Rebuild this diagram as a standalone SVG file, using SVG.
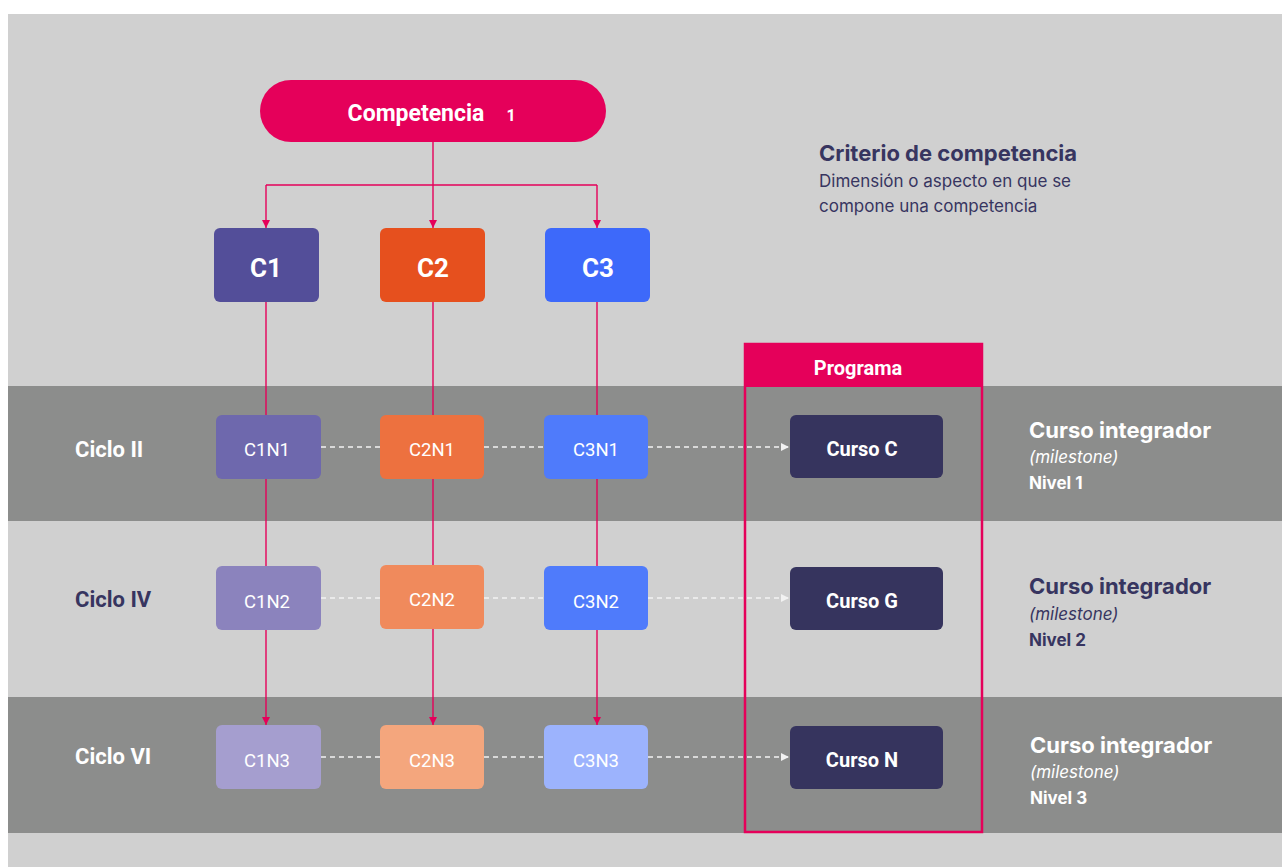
<svg xmlns="http://www.w3.org/2000/svg" width="1282" height="867" viewBox="0 0 1282 867">
<defs>
<style>
.n{font-family:Roboto,"Liberation Sans",sans-serif;fill:#fff;text-anchor:middle}
.b{font-weight:bold}
.ann{font-family:Inter,"Liberation Sans",sans-serif}
.wire{stroke:#e5005a;stroke-width:1.4;fill:none}
.dash{stroke:#f2f2f2;stroke-width:1.5;stroke-dasharray:5 4;fill:none}
</style>
<marker id="ap" viewBox="0 0 10 10" refX="10" refY="5" markerWidth="8" markerHeight="8" markerUnits="userSpaceOnUse" orient="auto"><path d="M0,0 L10,5 L0,10 z" fill="#e5005a"/></marker>
<marker id="aw" viewBox="0 0 10 10" refX="10" refY="5" markerWidth="8" markerHeight="8" markerUnits="userSpaceOnUse" orient="auto"><path d="M0,0 L10,5 L0,10 z" fill="#f2f2f2"/></marker>
</defs>
<rect width="1282" height="867" fill="#ffffff"/>
<rect x="8" y="14" width="1274" height="853" fill="#d0d0d0"/>
<rect x="8" y="386" width="1274" height="135" fill="#8c8d8c"/>
<rect x="8" y="697" width="1274" height="136" fill="#8c8d8c"/>

<g id="connectors">
<path class="wire" d="M433,142 V185"/>
<path class="wire" d="M266,185 H597"/>
<path class="wire" d="M266,185 V228" marker-end="url(#ap)"/>
<path class="wire" d="M433,185 V228" marker-end="url(#ap)"/>
<path class="wire" d="M597,185 V228" marker-end="url(#ap)"/>
<path class="wire" d="M266,302 V566"/>
<path class="wire" d="M433,302 V565"/>
<path class="wire" d="M597,302 V566"/>
<path class="wire" d="M266,630 V725" marker-end="url(#ap)"/>
<path class="wire" d="M433,629 V725" marker-end="url(#ap)"/>
<path class="wire" d="M597,630 V725" marker-end="url(#ap)"/>
<path class="dash" d="M321,447 H380 M484,447 H544"/>
<path class="dash" d="M648,447 H789" marker-end="url(#aw)"/>
<path class="dash" d="M321,598 H380 M484,598 H544"/>
<path class="dash" d="M648,598 H789" marker-end="url(#aw)"/>
<path class="dash" d="M321,757 H380 M484,757 H544"/>
<path class="dash" d="M648,757 H789" marker-end="url(#aw)"/>
</g>

<g id="competencia">
<rect x="260" y="80" width="346" height="62" rx="31" fill="#e5005a"/>
<text x="416" y="121" class="n b" font-size="23">Competencia</text>
<text x="511" y="121" class="n b" font-size="16">1</text>
</g>

<g id="criterio">
<text x="819" y="161" class="ann" font-size="22" font-weight="bold" fill="#373560">Criterio de competencia</text>
<text x="819" y="187" class="ann" font-size="17" fill="#373560">Dimensión o aspecto en que se</text>
<text x="819" y="212" class="ann" font-size="17" fill="#373560">compone una competencia</text>
</g>

<g id="c1"><rect x="214" y="228" width="105" height="74" rx="6" fill="#534e99"/><text x="266" y="277" class="n b" font-size="26">C1</text></g>
<g id="c2"><rect x="380" y="228" width="105" height="74" rx="6" fill="#e6501e"/><text x="433" y="277" class="n b" font-size="26">C2</text></g>
<g id="c3"><rect x="545" y="228" width="105" height="74" rx="6" fill="#3d69fa"/><text x="598" y="277" class="n b" font-size="26">C3</text></g>

<g id="programa">
<rect x="745" y="344" width="237" height="488" fill="none" stroke="#e5005a" stroke-width="2.5"/>
<rect x="744" y="343" width="239" height="44" fill="#e5005a"/>
<text x="858" y="375" class="n b" font-size="20">Programa</text>
</g>

<g id="ciclo2"><text x="75" y="457" class="n b" font-size="22" style="text-anchor:start">Ciclo II</text></g>
<g id="ciclo4"><text x="75" y="607" class="n b" font-size="22" style="text-anchor:start;fill:#373560">Ciclo IV</text></g>
<g id="ciclo6"><text x="75" y="764" class="n b" font-size="22" style="text-anchor:start">Ciclo VI</text></g>

<g id="c1n1"><rect x="216" y="415" width="105" height="64" rx="6" fill="#6e68ad"/><text x="267" y="456" class="n" font-size="18.5">C1N1</text></g>
<g id="c2n1"><rect x="380" y="415" width="104" height="64" rx="6" fill="#ed713f"/><text x="432" y="456" class="n" font-size="18.5">C2N1</text></g>
<g id="c3n1"><rect x="544" y="415" width="104" height="64" rx="6" fill="#4f7bfb"/><text x="596" y="456" class="n" font-size="18.5">C3N1</text></g>

<g id="c1n2"><rect x="216" y="566" width="105" height="64" rx="6" fill="#8b83bd"/><text x="267" y="608" class="n" font-size="18.5">C1N2</text></g>
<g id="c2n2"><rect x="380" y="565" width="104" height="64" rx="6" fill="#f08a5c"/><text x="432" y="606" class="n" font-size="18.5">C2N2</text></g>
<g id="c3n2"><rect x="544" y="566" width="104" height="64" rx="6" fill="#4f7bfb"/><text x="596" y="608" class="n" font-size="18.5">C3N2</text></g>

<g id="c1n3"><rect x="216" y="725" width="105" height="64" rx="6" fill="#a59ecf"/><text x="267" y="767" class="n" font-size="18.5">C1N3</text></g>
<g id="c2n3"><rect x="380" y="725" width="104" height="64" rx="6" fill="#f4a67d"/><text x="432" y="767" class="n" font-size="18.5">C2N3</text></g>
<g id="c3n3"><rect x="544" y="725" width="104" height="64" rx="6" fill="#9cb3fd"/><text x="596" y="767" class="n" font-size="18.5">C3N3</text></g>

<g id="cursoC"><rect x="790" y="415" width="153" height="63" rx="6" fill="#36345e"/><text x="862" y="456" class="n b" font-size="20">Curso C</text></g>
<g id="cursoG"><rect x="790" y="567" width="153" height="63" rx="6" fill="#36345e"/><text x="862" y="608" class="n b" font-size="20">Curso G</text></g>
<g id="cursoN"><rect x="790" y="726" width="153" height="63" rx="6" fill="#36345e"/><text x="862" y="767" class="n b" font-size="20">Curso N</text></g>

<g id="nivel1" class="ann" fill="#ffffff">
<text x="1029" y="438" font-size="22" font-weight="bold">Curso integrador</text>
<text x="1029" y="463" font-size="17" font-style="italic">(milestone)</text>
<text x="1029" y="489" font-size="17" font-weight="bold">Nivel 1</text>
</g>
<g id="nivel2" class="ann" fill="#373560">
<text x="1029" y="594" font-size="22" font-weight="bold">Curso integrador</text>
<text x="1029" y="620" font-size="17" font-style="italic">(milestone)</text>
<text x="1029" y="646" font-size="17" font-weight="bold">Nivel 2</text>
</g>
<g id="nivel3" class="ann" fill="#ffffff">
<text x="1030" y="753" font-size="22" font-weight="bold">Curso integrador</text>
<text x="1030" y="778" font-size="17" font-style="italic">(milestone)</text>
<text x="1030" y="804" font-size="17" font-weight="bold">Nivel 3</text>
</g>
</svg>
